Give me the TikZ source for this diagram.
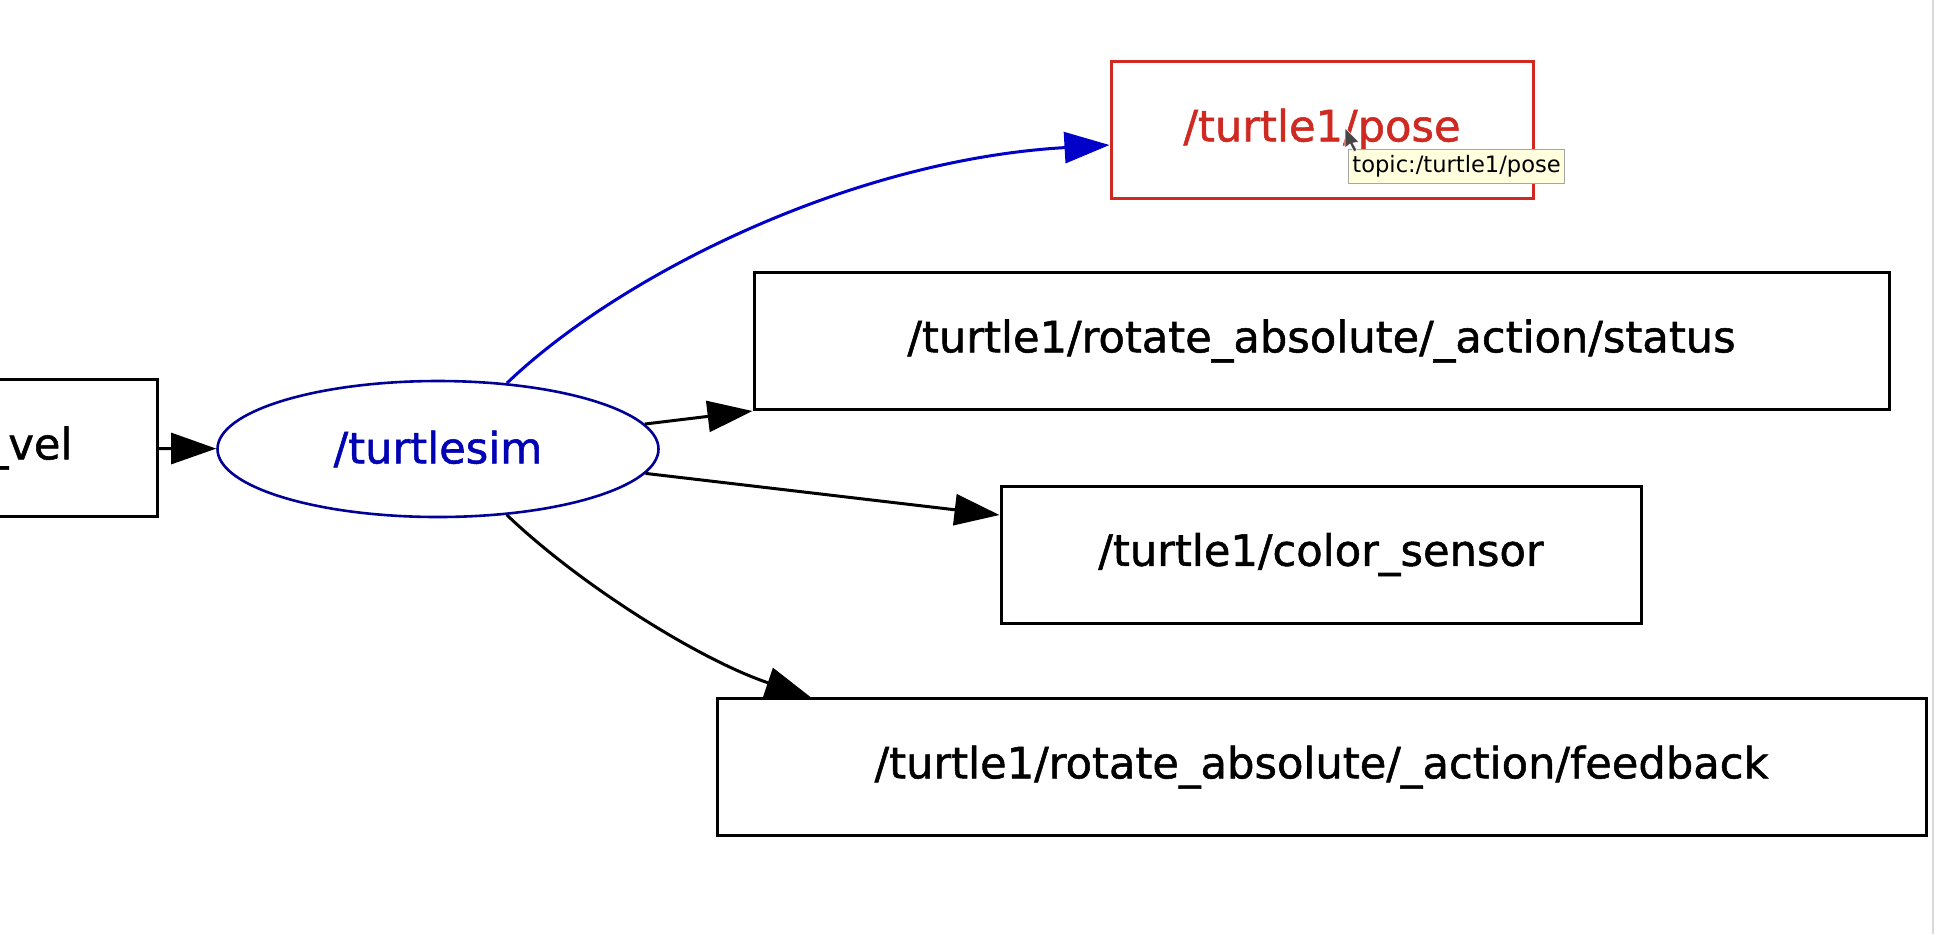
\documentclass[tikz,border=0pt]{standalone}
\usepackage{fontspec}
\setmainfont{DejaVu Sans}
\newfontfamily\graphfont{DejaVu Sans}[FakeBold=1.2]
\usepackage{xcolor}
\usetikzlibrary{arrows.meta,shapes.geometric}
\definecolor{posered}{RGB}{206,42,34}
\definecolor{simblue}{RGB}{0,0,150}
\definecolor{edgeblue}{RGB}{0,0,200}
\definecolor{tipyellow}{RGB}{255,255,222}
\tikzset{
    topic/.style={rectangle,draw,line width=1.5pt,minimum height=68.5pt,inner sep=0pt,
        font=\graphfont\fontsize{21.6pt}{26pt}\selectfont},
    focus/.style={topic,draw=posered,text=posered},
    nodeell/.style={ellipse,draw=simblue,line width=1.3pt,text=edgeblue!90!black,
        minimum width=220.5pt,minimum height=68pt,inner sep=0pt,
        font=\graphfont\fontsize{21.6pt}{26pt}\selectfont},
    tooltip/.style={rectangle,draw=gray!70,fill=tipyellow,line width=0.6pt,
        minimum width=108pt,minimum height=17pt,inner sep=0pt,
        font=\fontsize{11.3pt}{13pt}\selectfont},
    arr/.style={-{Triangle[length=22.5pt,width=15.5pt]},line width=1.5pt}
}

\begin{document}
\begin{tikzpicture}[x=0.5pt,y=-0.5pt]
    \useasboundingbox (0,0) rectangle (1938,934);
    \fill[white] (0,0) rectangle (1938,934);
    \draw[gray!30,line width=1.2pt] (1933,0) -- (1933,934);

    \node[topic,anchor=east,inner xsep=42.5pt] (cmdvel) at (159,448) {/turtle1/cmd\_vel};
    \node[nodeell] (turtlesim) at (438,449) {/turtlesim};
    \node[focus,minimum width=211pt] (pose) at (1322,129.5) {/turtle1/pose};
    \node[topic,minimum width=567.5pt] (status) at (1321.5,341) {/turtle1/rotate\_absolute/\_action/status};
    \node[topic,minimum width=320pt] (colorsensor) at (1321,554.5) {/turtle1/color\_sensor};
    \node[topic,minimum width=604.5pt] (feedback) at (1321.5,767) {/turtle1/rotate\_absolute/\_action/feedback};

    \draw[arr] (cmdvel) -- (turtlesim);
    \draw[arr,edgeblue] (turtlesim) .. controls (620,275) and (850,160) .. ([yshift=-7.75pt]pose.west);
    \draw[arr] (turtlesim) -- (status.south west);
    \draw[arr] (turtlesim) -- ([yshift=19.75pt]colorsensor.west);
    \draw[arr] (turtlesim) .. controls (580,585) and (700,660) .. ([xshift=47.5pt]feedback.north west);

    % hover hint over the pose topic
    \node[tooltip,anchor=north west] (hint) at (1348,149) {topic:/turtle1/pose};
    \filldraw[fill=gray!55!black,draw=white,line width=0.3pt]
        (1345,128) -- (1345,148) -- (1350,144) -- (1354,152) -- (1357,150)
        -- (1353,143) -- (1359,142) -- cycle;
\end{tikzpicture}
\end{document}
